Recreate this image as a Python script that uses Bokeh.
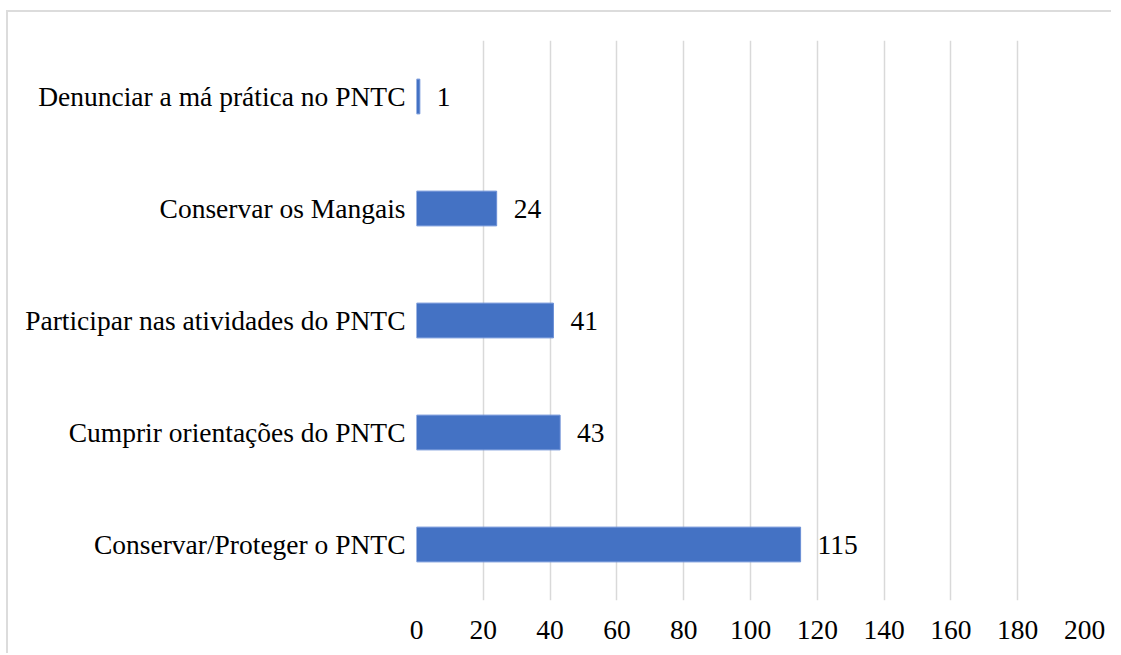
from bokeh.plotting import figure
from bokeh.models import ColumnDataSource, FixedTicker
from bokeh.core.properties import value
from bokeh.embed import file_html
from bokeh.resources import INLINE

# Data (bottom to top)
categories = [
    "Conservar/Proteger o PNTC",
    "Cumprir orientações do PNTC",
    "Participar nas atividades do PNTC",
    "Conservar os Mangais",
    "Denunciar a má prática no PNTC",
]
counts = [115, 43, 41, 24, 1]
x_ticks = [0, 20, 40, 60, 80, 100, 120, 140, 160, 180, 200]

FONT = "Liberation Serif"
FS = "27.5px"

src = ColumnDataSource(dict(cat=categories, val=counts, lab=[str(v) for v in counts]))

p = figure(
    y_range=categories,
    x_range=(0, 200),
    width=1105,
    height=643,
    output_backend="svg",
    toolbar_location=None,
    min_border_left=408,
    min_border_right=29,
    min_border_top=28,
    min_border_bottom=55,
)
p.styles = {
    "margin-left": "6px",
    "margin-top": "10px",
    "border-left": "2px solid #DCDCDC",
    "border-top": "2px solid #DCDCDC",
}

p.hbar(y="cat", right="val", left=0, height=0.31, source=src,
       fill_color="#4472C4", line_color="#6A8FD6", line_width=1)

p.text(x="val", y="cat", text="lab", source=src, x_offset=17,
       text_baseline="middle", text_align="left",
       text_font=value(FONT), text_font_size=FS, text_color="#000000")

p.outline_line_color = None
p.background_fill_color = "white"
p.border_fill_color = "white"

p.ygrid.grid_line_color = None
p.xgrid.grid_line_color = "#D9D9D9"
p.xgrid.grid_line_width = 1.5
p.xaxis.ticker = FixedTicker(ticks=x_ticks)

for ax in (p.xaxis[0], p.yaxis[0]):
    ax.axis_line_color = None
    ax.major_tick_line_color = None
    ax.minor_tick_line_color = None
    ax.major_tick_out = 0
    ax.major_tick_in = 0
    ax.minor_tick_out = 0
    ax.major_label_text_font = FONT
    ax.major_label_text_font_size = FS
    ax.major_label_text_color = "#000000"

p.xaxis.major_label_standoff = 20
p.yaxis.major_label_standoff = 11

open("out.html", "w").write(file_html(p, INLINE))
